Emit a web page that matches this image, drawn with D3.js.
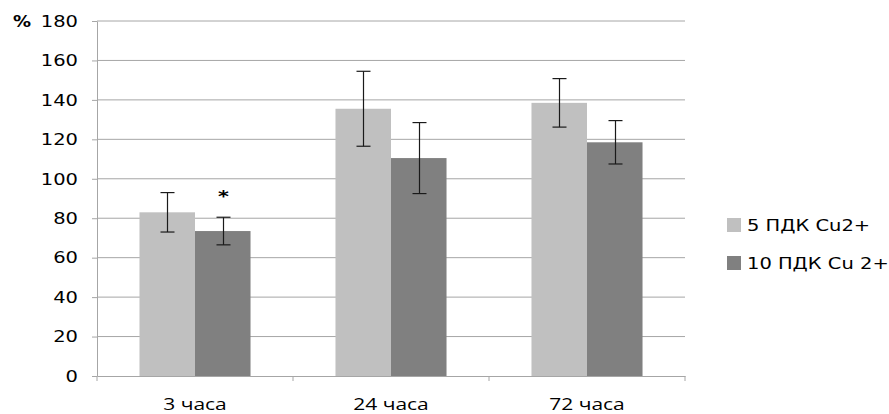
<!DOCTYPE html>
<html>
<head>
<meta charset="utf-8">
<script src="https://cdn.jsdelivr.net/npm/d3@7"></script>
<style>
  body { margin: 0; background: #fff; }
  svg { display: block; }
</style>
</head>
<body>
<svg width="889" height="414"></svg>
<script>
const categories = ["3 часа", "24 часа", "72 часа"];
const seriesNames = ["5 ПДК Cu2+", "10 ПДК Cu 2+"];
const seriesColors = ["#c0c0c0", "#808080"];
const values5 = [83, 135.5, 138.5];
const errors5 = [10, 19, 12.3];
const values10 = [73.5, 110.5, 118.5];
const errors10 = [7, 18, 11];
const yTicks = [0, 20, 40, 60, 80, 100, 120, 140, 160, 180];
const marks = ["*", "", ""];   // significance marks over the 10 ПДК bars

const svg = d3.select("svg");
const stretch = 1.3;  // the source picture is widened horizontally

const plotLeft = 97, plotRight = 685, plotTop = 21, plotBottom = 376;

const x = d3.scaleBand()
    .domain(categories)
    .range([plotLeft, plotRight]);

const xInner = d3.scaleBand()
    .domain(seriesNames)
    .range([0, x.bandwidth()])
    .paddingOuter(0.765)
    .paddingInner(0);

const y = d3.scaleLinear()
    .domain([0, 180])
    .range([plotBottom, plotTop]);

// gridlines
svg.append("g")
    .selectAll("line")
    .data(yTicks.filter(d => d > 0))
    .join("line")
    .attr("x1", plotLeft)
    .attr("x2", plotRight)
    .attr("y1", d => y(d))
    .attr("y2", d => y(d))
    .attr("stroke", "#a6a6a6")
    .attr("stroke-width", 1);

// bars
const data = [];
categories.forEach((c, i) => {
    data.push({cat: c, s: seriesNames[0], v: values5[i], e: errors5[i], color: seriesColors[0]});
    data.push({cat: c, s: seriesNames[1], v: values10[i], e: errors10[i], color: seriesColors[1]});
});

svg.append("g")
    .selectAll("rect")
    .data(data)
    .join("rect")
    .attr("x", d => x(d.cat) + xInner(d.s))
    .attr("y", d => y(d.v))
    .attr("width", xInner.bandwidth())
    .attr("height", d => y(0) - y(d.v))
    .attr("fill", d => d.color);

// error bars
const errG = svg.append("g")
    .attr("stroke", "#1a1a1a")
    .attr("stroke-width", 1.2);
const cx = d => Math.round(x(d.cat) + xInner(d.s) + xInner.bandwidth() / 2) + 0.5;
errG.selectAll("line.stem")
    .data(data)
    .join("line")
    .attr("class", "stem")
    .attr("x1", cx)
    .attr("x2", cx)
    .attr("y1", d => y(d.v + d.e))
    .attr("y2", d => y(d.v - d.e));
errG.selectAll("line.capTop")
    .data(data)
    .join("line")
    .attr("class", "capTop")
    .attr("x1", d => cx(d) - 7)
    .attr("x2", d => cx(d) + 7)
    .attr("y1", d => y(d.v + d.e))
    .attr("y2", d => y(d.v + d.e));
errG.selectAll("line.capBot")
    .data(data)
    .join("line")
    .attr("class", "capBot")
    .attr("x1", d => cx(d) - 7)
    .attr("x2", d => cx(d) + 7)
    .attr("y1", d => y(d.v - d.e))
    .attr("y2", d => y(d.v - d.e));

// significance marks
svg.append("g")
    .selectAll("text")
    .data(categories.map((c, i) => ({cat: c, s: seriesNames[1], m: marks[i], v: values10[i], e: errors10[i]})))
    .join("text")
    .attr("transform", d => `translate(${cx(d)},${y(d.v + d.e) - 15}) scale(${stretch},1)`)
    .attr("text-anchor", "middle")
    .attr("font-family", "DejaVu Sans, Verdana, sans-serif")
    .attr("font-size", "16px")
    .attr("font-weight", "bold")
    .text(d => d.m);

// y axis
const yAxis = svg.append("g")
    .attr("transform", `translate(${plotLeft},0)`)
    .call(d3.axisLeft(y).tickValues(yTicks).tickSize(5).tickSizeOuter(0));
yAxis.select(".domain").attr("stroke", "#a6a6a6");
yAxis.selectAll(".tick line").attr("stroke", "#a6a6a6");
yAxis.selectAll(".tick text")
    .attr("font-family", "DejaVu Sans, Verdana, sans-serif")
    .attr("font-size", "15px")
    .attr("fill", "#000")
    .attr("x", 0)
    .attr("dy", "0.35em")
    .attr("transform", `translate(-19,0) scale(${stretch},1)`);

// x axis
const xAxis = svg.append("g")
    .attr("transform", `translate(0,${plotBottom})`)
    .call(d3.axisBottom(x).tickSize(0).tickSizeOuter(0));
xAxis.select(".domain").attr("stroke", "#a6a6a6");
xAxis.selectAll(".tick text")
    .attr("font-family", "Open Sans, sans-serif")
    .attr("font-size", "17px")
    .attr("fill", "#000")
    .attr("y", 0)
    .attr("dy", 0)
    .attr("transform", `translate(0,34) scale(${stretch * 0.95},1)`);

svg.append("g")
    .selectAll("line")
    .data(categories.concat(["end"]))
    .join("line")
    .attr("x1", (d, i) => i < categories.length ? x(d) : plotRight)
    .attr("x2", (d, i) => i < categories.length ? x(d) : plotRight)
    .attr("y1", plotBottom)
    .attr("y2", plotBottom + 5)
    .attr("stroke", "#a6a6a6");

// percent sign
svg.append("text")
    .attr("transform", `translate(13,${y(180) + 6}) scale(1.2,1)`)
    .attr("font-family", "DejaVu Sans, Verdana, sans-serif")
    .attr("font-size", "15px")
    .attr("font-weight", "bold")
    .text("%");

// legend
const legend = svg.append("g")
    .attr("transform", "translate(727,218)");
const items = legend.selectAll("g")
    .data(seriesNames)
    .join("g")
    .attr("transform", (d, i) => `translate(0,${i * 38})`);
items.append("rect")
    .attr("width", 14)
    .attr("height", 14)
    .attr("fill", (d, i) => seriesColors[i]);
items.append("text")
    .attr("transform", `translate(20,12.5) scale(${stretch},1)`)
    .attr("font-family", "DejaVu Sans, Verdana, sans-serif")
    .attr("font-size", "15px")
    .text(d => d);
</script>
</body>
</html>
